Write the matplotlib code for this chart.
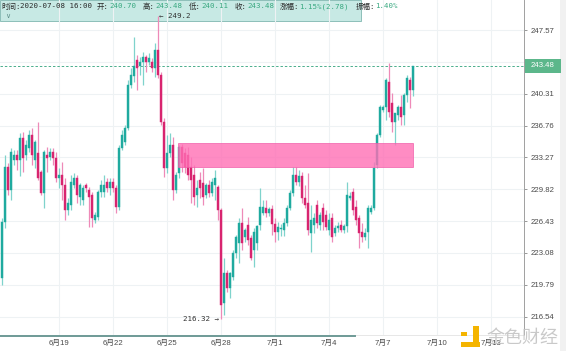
import numpy as np
import pandas as pd
import matplotlib
matplotlib.use('Agg')
import matplotlib.pyplot as plt
from matplotlib.patches import Rectangle
from matplotlib.lines import Line2D
from matplotlib.transforms import IdentityTransform
from matplotlib.ticker import NullLocator, FixedLocator, FixedFormatter

plt.rcParams['font.family'] = ['Liberation Sans', 'Noto Sans CJK SC', 'DejaVu Sans']

# ---------------- data (4H candles) ----------------
first_time = '2020-06-15 20:00'
open_ = [220.48, 226.33, 232.22, 229.74, 232.98, 233.52, 232.98, 235.39, 233.52, 234.29,
         235.72, 232.98, 233.74, 231.68, 229.41, 233.52, 233.31, 233.85, 233.20, 231.03,
         231.35, 230.27, 227.60, 228.13, 230.27, 231.03, 228.99, 228.66, 230.27, 229.74,
         229.20, 226.54, 226.85, 229.52, 229.52, 230.60, 229.95, 230.60, 229.95, 227.92,
         234.29, 234.95, 236.49, 241.29, 242.31, 244.12, 243.44, 243.90, 244.47, 243.90,
         243.90, 243.21, 245.27, 242.42, 237.15, 232.11, 233.74, 234.62, 229.74, 231.57,
         234.40, 233.74, 233.52, 232.22, 231.35, 229.20, 230.81, 230.49, 229.20, 230.27,
         229.41, 230.27, 230.06, 227.60, 217.92, 221.00, 219.45, 220.58, 223.07, 224.12,
         226.22, 224.74, 226.01, 224.64, 223.38, 224.12, 226.01, 227.28, 227.81, 227.28,
         227.70, 226.12, 225.27, 225.59, 225.48, 226.22, 227.81, 229.41, 231.35, 230.60,
         231.24, 228.88, 228.34, 225.17, 226.01, 228.13, 226.01, 227.81, 227.07, 225.48,
         226.75, 225.17, 225.69, 226.01, 225.48, 225.91, 228.88, 229.52, 227.92, 226.75,
         225.27, 224.74, 225.27, 227.39, 227.81, 232.44, 235.72, 238.49, 238.82, 241.63,
         239.27, 237.15, 237.93, 238.82, 237.93, 240.16, 241.85, 240.70]
high = [226.75, 233.52, 232.65, 234.29, 234.07, 234.07, 235.94, 236.05, 235.17, 236.27,
        236.49, 235.17, 237.15, 231.89, 234.07, 234.40, 234.29, 234.29, 233.85, 232.11,
        232.76, 231.03, 228.88, 231.35, 231.57, 231.35, 230.49, 230.27, 230.49, 230.06,
        229.52, 227.39, 229.74, 230.81, 231.35, 231.03, 231.03, 231.03, 230.27, 234.62,
        236.27, 236.82, 241.85, 243.21, 246.76, 244.70, 244.47, 245.04, 244.70, 244.93,
        244.36, 246.07, 249.20, 242.76, 237.60, 235.72, 235.94, 235.50, 231.68, 234.62,
        234.73, 234.29, 234.40, 233.31, 232.44, 230.81, 231.68, 232.11, 230.49, 230.81,
        231.03, 231.89, 230.27, 227.81, 222.55, 221.31, 221.10, 223.38, 224.95, 226.75,
        227.81, 225.69, 226.85, 224.95, 225.69, 226.01, 229.95, 228.66, 228.66, 227.92,
        228.13, 226.75, 226.33, 226.12, 226.75, 228.13, 229.74, 232.22, 232.22, 231.89,
        231.68, 230.27, 231.57, 228.13, 227.28, 228.66, 227.39, 228.34, 227.60, 227.28,
        227.28, 226.01, 226.33, 226.54, 226.12, 230.60, 229.52, 229.95, 228.66, 227.07,
        226.22, 225.69, 228.13, 228.13, 232.76, 235.94, 239.05, 239.05, 242.08, 243.78,
        240.39, 238.15, 239.05, 240.16, 240.39, 242.42, 242.19, 243.48]
low = [219.76, 225.69, 229.20, 228.66, 232.44, 231.89, 231.24, 231.68, 232.98, 233.85,
       232.44, 232.11, 230.81, 229.20, 227.81, 231.68, 232.98, 232.44, 230.60, 229.95,
       228.66, 226.54, 227.07, 227.60, 229.95, 228.34, 228.13, 228.13, 229.52, 225.80,
       225.80, 226.22, 226.54, 228.99, 228.99, 229.52, 229.20, 229.52, 227.28, 227.60,
       234.07, 234.62, 236.27, 240.95, 241.63, 240.72, 242.42, 241.29, 242.76, 243.55,
       242.76, 242.19, 242.08, 236.82, 231.13, 231.57, 233.31, 228.66, 229.41, 231.03,
       231.68, 231.57, 230.81, 228.34, 228.13, 227.92, 228.88, 228.13, 228.88, 228.99,
       229.09, 228.66, 226.54, 216.32, 216.70, 219.04, 218.43, 220.27, 222.55, 222.03,
       223.38, 224.22, 223.91, 222.34, 221.62, 223.38, 225.48, 227.07, 226.85, 226.96,
       224.95, 224.22, 224.43, 224.85, 224.85, 225.91, 227.60, 229.09, 230.27, 230.17,
       228.34, 227.81, 224.95, 223.17, 225.17, 225.69, 225.48, 225.48, 225.48, 224.95,
       224.22, 224.85, 225.27, 225.27, 225.17, 225.27, 228.66, 227.07, 226.01, 223.59,
       224.22, 224.43, 223.59, 227.17, 227.60, 232.11, 235.50, 238.26, 237.37, 237.71,
       236.05, 234.62, 237.37, 236.82, 236.82, 239.38, 238.71, 240.11]
close = [226.33, 232.22, 229.74, 233.85, 233.52, 232.98, 235.39, 233.20, 234.62, 235.72,
         233.52, 234.95, 231.03, 229.41, 233.85, 233.20, 233.85, 233.20, 231.03, 231.35,
         230.27, 227.60, 228.34, 230.60, 231.03, 229.20, 230.27, 229.95, 229.95, 228.99,
         226.75, 227.07, 229.52, 230.27, 230.27, 229.95, 230.60, 229.95, 227.92, 234.29,
         235.72, 236.49, 241.29, 242.42, 243.44, 243.21, 243.90, 244.47, 243.90, 244.36,
         243.21, 245.27, 242.42, 237.15, 232.11, 233.74, 234.62, 229.74, 231.35, 234.40,
         232.65, 232.22, 231.35, 230.81, 228.99, 229.95, 229.95, 228.99, 230.27, 229.41,
         230.60, 231.03, 227.60, 217.71, 221.00, 219.45, 221.00, 223.07, 224.74, 226.22,
         224.12, 225.48, 224.43, 222.55, 225.27, 225.91, 227.92, 227.92, 227.28, 227.70,
         226.12, 225.27, 225.80, 225.69, 226.22, 227.81, 229.41, 231.35, 230.60, 231.24,
         228.88, 228.13, 225.48, 226.54, 226.75, 226.22, 227.07, 226.33, 225.80, 226.54,
         224.74, 225.69, 225.91, 225.48, 225.91, 229.20, 229.09, 227.60, 226.54, 225.17,
         224.74, 225.17, 227.81, 227.81, 232.11, 235.72, 238.82, 238.82, 241.85, 238.26,
         237.15, 238.15, 238.82, 237.71, 240.16, 242.08, 240.72, 243.48]

zone_low, zone_high = 232.25, 234.81
zone_start = '2020-06-25 16:00'
last_price = 243.48
high_mark = 249.2
low_mark = 216.32

y_ticks = [216.54, 219.79, 223.08, 226.43, 229.82, 233.27, 236.76, 240.31, 243.91, 247.57]
y_tick_labels = ['216.54', '219.79', '223.08', '226.43', '229.82', '233.27', '236.76',
                 '240.31', '', '247.57']   # 243.91 is hidden under the last-price tag
x_tick_dates = ['2020-06-19', '2020-06-22', '2020-06-25', '2020-06-28', '2020-07-01',
                '2020-07-04', '2020-07-07', '2020-07-10', '2020-07-13']
x_tick_labels = ['6月19', '6月22', '6月25', '6月28', '7月1', '7月4', '7月7', '7月10', '7月13']

info = [('时间:', '2020-07-08 16:00'), ('开:', '240.70'), ('高:', '243.48'), ('低:', '240.11'),
        ('收:', '243.48'), ('涨幅:', '1.15%(2.78)'), ('振幅:', '1.40%')]

# ---------------- figure ----------------
W, H = 566, 351
fig = plt.figure(figsize=(W / 100, H / 100), dpi=100)
fig.patch.set_facecolor('white')

def fx(px):
    return px / W

def fy(py):
    return 1 - py / H

ax = fig.add_axes([0, fy(335), fx(524), 335 / H])
ax.patch.set_visible(False)

o = np.array(open_); h = np.array(high); l = np.array(low); c = np.array(close)
t0 = pd.Timestamp(first_time)
step = pd.Timedelta(hours=4)
x = np.arange(len(c))

def tpos(s):
    return (pd.Timestamp(s) - t0) / step

up = c >= o
UP, DN = '#1faa9f', '#d8246f'
UPW, DNW = '#7fd3cc', '#ee8ab8'
ax.vlines(x[up], l[up], h[up], color=UPW, lw=0.9, zorder=2)
ax.vlines(x[~up], l[~up], h[~up], color=DNW, lw=0.9, zorder=2)
bb = np.minimum(o, c); bh = np.abs(c - o)
ax.bar(x[up], bh[up], bottom=bb[up], width=0.6, color=UP, edgecolor=UP, linewidth=0.3, zorder=3)
ax.bar(x[~up], bh[~up], bottom=bb[~up], width=0.6, color=DN, edgecolor=DN, linewidth=0.3, zorder=3)

# zone rectangle
zs = tpos(zone_start)
ax.add_patch(Rectangle((zs - 0.33, zone_low), x[-1] - zs + 0.33, zone_high - zone_low,
                       facecolor='#ff6fb5', alpha=0.8, edgecolor='#f05aa8', lw=0.6, zorder=4))

ax.set_yscale('log')
ax.set_ylim(214.69, 251.07)
ax.set_xlim(-0.667, 174)

# last price line
ax.axhline(last_price, color='#4aae8c', lw=0.7, ls=(0, (2.5, 2)), zorder=1)

# grid + ticks
xt = [tpos(d) for d in x_tick_dates]
ax.xaxis.set_major_locator(FixedLocator(xt))
ax.xaxis.set_major_formatter(FixedFormatter(x_tick_labels))
ax.yaxis.set_major_locator(FixedLocator(y_ticks))
ax.yaxis.set_major_formatter(FixedFormatter(y_tick_labels))
ax.yaxis.set_minor_locator(NullLocator())
ax.xaxis.set_minor_locator(NullLocator())
ax.yaxis.tick_right()
ax.grid(True, color='#eef2f4', lw=0.8, zorder=0)
ax.set_axisbelow(True)
ax.tick_params(axis='y', length=2.2, width=0.6, color='#888888', pad=2.5,
               labelsize=5.6, labelcolor='#4a4a4a')
ax.tick_params(axis='x', length=0, pad=3.5, labelsize=5.6, labelcolor='#4a4a4a')
for s in ['left', 'top']:
    ax.spines[s].set_visible(False)
ax.spines['right'].set_color('#a0a0a0'); ax.spines['right'].set_linewidth(0.7)
ax.spines['bottom'].set_color('#e3e3e3'); ax.spines['bottom'].set_linewidth(0.6)

mono = ['DejaVu Sans Mono', 'Noto Sans CJK SC']
# high / low annotations
ax.text(x[int(np.argmax(h))] + 0.4, high_mark, '\u2190 ' + str(high_mark), fontsize=5.4,
        family=mono, color='#333333', va='center', ha='left', zorder=7, clip_on=False)
ax.text(x[int(np.argmin(l))] - 0.6, low_mark, '%.2f \u2192' % low_mark, fontsize=5.4,
        family=mono, color='#333333', va='center', ha='right', zorder=7)

# right panel strip
fig.patches.append(Rectangle((fx(560), 0), fx(6), 1, transform=fig.transFigure,
                             facecolor='#f1f1f1', edgecolor='none', zorder=-2))

# last price label
fig.canvas.draw()
yd = ax.transData.transform((0, last_price))[1]
fig.patches.append(Rectangle((525, yd - 7), 36, 14, transform=IdentityTransform(),
                             facecolor='#5cb78b', edgecolor='none', zorder=5))
fig.text(fx(543), yd / H, '%.2f' % last_price, color='white', fontsize=5.6,
         ha='center', va='center', zorder=6)

# info bar (drawn beneath the transparent axes so the high wick and label show on it)
fig.patches.append(Rectangle((0, fy(20.5)), fx(361), 20.5 / H, transform=fig.transFigure,
                             facecolor='#c7e9e4', edgecolor='#7fb7b0', lw=0.6, zorder=-1))
renderer = fig.canvas.get_renderer()
starts = [1, 97, 143, 189, 235, 280, 356]
for (lab, val), sx in zip(info, starts):
    t = fig.text(fx(sx), fy(6.5), lab, fontsize=5.4, family=mono, color='#2b2b2b',
                 ha='left', va='center', zorder=6)
    ext = t.get_window_extent(renderer)
    vcol = '#2b2b2b' if lab == '时间:' else '#3aa981'
    fig.text(ext.x1 / W, fy(6.5), val, fontsize=5.4, family=mono, color=vcol,
             ha='left', va='center', zorder=6)
fig.text(fx(8), fy(15.5), '\u2228', fontsize=5, color='#5f8f8a', ha='center', va='center',
         family=['DejaVu Sans'], zorder=6)

# bottom scroll bar
fig.lines.append(Line2D([0, fx(355)], [fy(336), fy(336)], transform=fig.transFigure,
                        color='#6e9a96', lw=1.4, zorder=5))

# watermark
for (px0, py0, w_, h_) in [(461, 331.5, 5.5, 4.5), (473.5, 326, 6, 21), (460.5, 341.5, 19, 5.5)]:
    fig.patches.append(Rectangle((fx(px0), fy(py0 + h_)), fx(w_), h_ / H, transform=fig.transFigure,
                                 facecolor='#f4b400', edgecolor='none', zorder=8))
fig.text(fx(486), fy(338), '金色财经', fontsize=13, color='#c4c4c4', alpha=0.9,
         family=['Noto Sans CJK SC'], ha='left', va='center', zorder=8)

fig.savefig('out.png', dpi=100, facecolor='white')
